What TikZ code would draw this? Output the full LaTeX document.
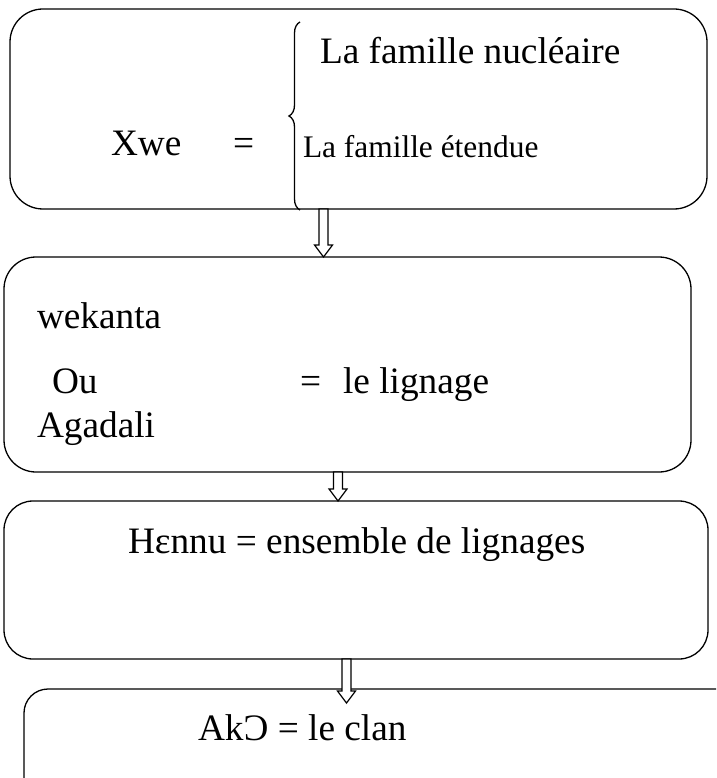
\documentclass[tikz,border=0pt]{standalone}
\usepackage{fontspec}
\setmainfont{Liberation Serif}
\usetikzlibrary{calc,decorations.pathreplacing}
\tikzset{
  box/.style={draw, line width=1.3pt, rectangle, outer sep=0pt, inner sep=0pt},
  txt/.style={anchor=base west, inner sep=0pt, outer sep=0pt, font=\fontsize{37.3}{44}\selectfont},
  smalltxt/.style={anchor=base west, inner sep=0pt, outer sep=0pt, font=\fontsize{31.4}{37}\selectfont},
  blk/.style={draw, fill=white, line width=1.2pt, line join=miter},
  bracestyle/.style={draw, line width=1.3pt, decorate, decoration={brace, amplitude=11pt}}
}
\newcommand{\blockarrow}[2]{%
  \path[blk] let \p1=(#1), \p2=(#2) in
    (\x1-4.5pt,\y1) -- (\x1-4.5pt,\y2+12pt) -- (\x1-9pt,\y2+12pt) -- (\x1,\y2)
    -- (\x1+9pt,\y2+12pt) -- (\x1+4.5pt,\y2+12pt) -- (\x1+4.5pt,\y1) -- cycle;}
\begin{document}
\begin{tikzpicture}[x=1pt, y=-1pt]
\useasboundingbox (0,0) rectangle (716,778);
\clip (0,0) rectangle (716,778);
\fill[white] (0,0) rectangle (716,778);

% boxes
\node[box, rounded corners=33pt, minimum width=697pt, minimum height=200pt] (b1) at (358.5,109) {};
\node[box, rounded corners=32pt, minimum width=687pt, minimum height=215pt] (b2) at (347.5,364.5) {};
\node[box, rounded corners=29pt, minimum width=704pt, minimum height=158pt] (b3) at (356,580) {};
\node[box, rounded corners=24pt, minimum width=716pt, minimum height=130pt] (b4) at (382,754) {};

% box 1 content
\node[txt] (xwe) at (111,156) {Xwe};
\node[txt] (eq1) at (233,156) {=};
\coordinate (brb) at (300,210);
\coordinate (brt) at (300,22);
\draw[bracestyle] (brb) -- (brt);
\node[txt] (nuc) at (320,64) {La famille nucléaire};
\node[smalltxt] (ete) at (303,158) {La famille étendue};

% box 2 content
\node[txt] (wek) at (37,328) {wekanta};
\node[txt] (ou) at (52,393) {Ou};
\node[txt] (eq2) at (300,393) {=};
\node[txt] (lig) at (343,393) {le lignage};
\node[txt] (aga) at (37,437) {Agadali};

% box 3 content
\node[txt] (hen) at (128,553) {Hɛnnu = ensemble de lignages};

% box 4 content
\node[txt] (ako) at (198,740) {AkƆ = le clan};

% arrows
\coordinate (a1s) at (b1.south -| 323.5,0);
\coordinate (a1e) at (b2.north -| 323.5,0);
\coordinate (a2s) at (b2.south -| 338,0);
\coordinate (a2e) at (b3.north -| 338,0);
\coordinate (a3s) at (b3.south -| 346.5,0);
\coordinate (a3e) at (346.5,703);
\blockarrow{a1s}{a1e}
\blockarrow{a2s}{a2e}
\blockarrow{a3s}{a3e}
\end{tikzpicture}
\end{document}
